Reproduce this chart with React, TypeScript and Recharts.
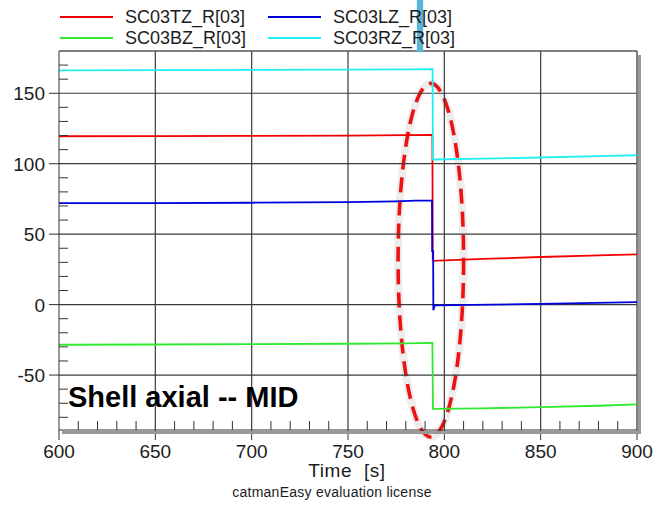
import { Line, LineChart, ReferenceArea, ReferenceLine, XAxis, YAxis } from "recharts";

const FONT = "Tahoma, 'Liberation Sans', Arial, sans-serif";

// SC03TZ_R[03] (red)
const tzTime = [600, 650, 700, 750, 780, 793.8, 794, 820, 850, 880, 900];
const tzValue = [119.5, 119.6, 119.8, 120.0, 120.3, 120.4, 31, 32.4, 33.8, 35, 35.6];

// SC03LZ_R[03] (blue)
const lzTime = [600, 650, 700, 750, 775, 785, 793.6, 793.7, 794.2, 794.3, 795, 850, 900];
const lzValue = [72, 72, 72.3, 72.8, 73.3, 73.8, 73.8, 38, 38, -4, -0.5, 0.5, 1.8];

// SC03BZ_R[03] (green)
const bzTime = [600, 650, 700, 750, 780, 793.8, 794.1, 820, 850, 880, 900];
const bzValue = [-28.5, -28.3, -28, -27.8, -27.5, -27.2, -74, -73.6, -72.8, -71.8, -70.8];

// SC03RZ_R[03] (cyan)
const rzTime = [600, 650, 700, 750, 780, 793.9, 794.1, 820, 850, 880, 900];
const rzValue = [166.2, 166.4, 166.6, 166.8, 167, 167.1, 103, 103.6, 104.4, 105.4, 106];

const xMajor = [650, 700, 750, 800, 850];
const yMajor = [-50, 0, 50, 100, 150];
const xTicks = Array.from({ length: 31 }, (_, i) => 600 + i * 10);
const yTicks = Array.from({ length: 26 }, (_, i) => -80 + i * 10);

const seriesList = [
  { key: "tz", name: "SC03TZ_R[03]", color: "#f00000", time: tzTime, value: tzValue },
  { key: "lz", name: "SC03LZ_R[03]", color: "#0000dc", time: lzTime, value: lzValue },
  { key: "bz", name: "SC03BZ_R[03]", color: "#2eea2e", time: bzTime, value: bzValue },
  { key: "rz", name: "SC03RZ_R[03]", color: "#22f0f0", time: rzTime, value: rzValue },
];

function YTick({ x, y, payload }: any) {
  const v = payload.value;
  if (v % 50 === 0) {
    return (
      <g>
        <line x1={x - 10} x2={x} y1={y} y2={y} stroke="#333" />
        <text x={x - 14} y={y} dy={7} textAnchor="end" fontSize={19} fill="#1c1c1c" fontFamily={FONT}>
          {v}
        </text>
      </g>
    );
  }
  return <line x1={x} x2={x + 9} y1={y} y2={y} stroke="#333" />;
}

function XTick({ x, y, payload }: any) {
  const v = payload.value;
  if (v % 50 === 0) {
    return (
      <g>
        <line x1={x} x2={x} y1={y} y2={y + 10} stroke="#333" />
        <text x={x} y={y + 27.5} textAnchor="middle" fontSize={19} fill="#1c1c1c" fontFamily={FONT}>
          {v}
        </text>
      </g>
    );
  }
  return <line x1={x} x2={x} y1={y - 9} y2={y} stroke="#333" />;
}

function DashedEllipse({ x, y, width, height }: any) {
  const cx = x + width / 2;
  const cy = y + height / 2;
  return (
    <g>
      <ellipse cx={cx} cy={cy} rx={width / 2} ry={height / 2} fill="none" stroke="rgba(0,0,0,0.07)" strokeWidth={8} />
      <ellipse
        cx={cx}
        cy={cy}
        rx={width / 2}
        ry={height / 2}
        fill="none"
        stroke="#ee1111"
        strokeWidth={3.6}
        strokeDasharray="15 8"
      />
    </g>
  );
}

export default function App() {
  return (
    <div
      style={{
        position: "absolute",
        left: 0,
        top: 0,
        width: 654,
        height: 505,
        background: "#fff",
        fontFamily: FONT,
        color: "#1c1c1c",
      }}
    >
      <LineChart width={654} height={505} margin={{ top: 51, right: 17, left: 0, bottom: 0 }}>
        <XAxis
          dataKey="t"
          type="number"
          domain={[600, 900]}
          allowDataOverflow
          ticks={xTicks}
          interval={0}
          tickSize={0}
          tickMargin={0}
          tickLine={false}
          tick={XTick}
          height={75}
          stroke="#333"
        />
        <YAxis
          type="number"
          domain={[-89, 180]}
          allowDataOverflow
          ticks={yTicks}
          interval={0}
          tickSize={0}
          tickMargin={0}
          tickLine={false}
          tick={YTick}
          width={59}
          stroke="#333"
        />
        {yMajor.map((v) => (
          <ReferenceLine key={"y" + v} y={v} stroke="#3a3a3a" strokeWidth={1.2} />
        ))}
        {xMajor.map((v) => (
          <ReferenceLine key={"x" + v} x={v} stroke="#3a3a3a" strokeWidth={1.2} />
        ))}
        <ReferenceLine y={180} stroke="#555" strokeWidth={1.5} />
        <ReferenceLine x={900} stroke="#555" strokeWidth={1.5} />
        {seriesList.map((s) => (
          <Line
            key={s.key}
            data={s.time.map((t, i) => ({ t, v: s.value[i] }))}
            dataKey="v"
            name={s.name}
            stroke={s.color}
            strokeWidth={1.8}
            dot={false}
            type="linear"
            isAnimationActive={false}
          />
        ))}
        <ReferenceArea
          x1={776}
          x2={810}
          y1={-94}
          y2={157}
          ifOverflow="visible"
          shape={DashedEllipse}
        />
      </LineChart>

      {/* axis shadows */}
      <div style={{ position: "absolute", left: 62, top: 431, width: 579, height: 3, background: "#9a9a9a" }} />
      <div style={{ position: "absolute", left: 638, top: 55, width: 3, height: 379, background: "#9a9a9a" }} />

      {/* stray marker bar at top */}
      <div
        style={{
          position: "absolute",
          left: 417,
          top: 0,
          width: 6,
          height: 52,
          background: "#5ab4d8",
          boxShadow: "0 0 2px #8cc8e0",
        }}
      />

      {/* legend */}
      <div
        style={{
          position: "absolute",
          left: 60,
          top: 7,
          display: "grid",
          gridTemplateColumns: "208px 208px",
          gridAutoRows: "20.5px",
        }}
      >
        {seriesList.map((s) => (
          <div key={s.key} style={{ display: "flex", alignItems: "center" }}>
            <span style={{ display: "inline-block", width: 53, height: 2, background: s.color, marginRight: 12 }} />
            <span style={{ fontSize: 18, lineHeight: "20px", whiteSpace: "pre" }}>{s.name}</span>
          </div>
        ))}
      </div>

      <div
        style={{
          position: "absolute",
          left: 68,
          top: 383,
          fontSize: 29,
          lineHeight: "29px",
          fontWeight: "bold",
          fontFamily: "'Liberation Sans', Arial, sans-serif",
          color: "#000",
          whiteSpace: "pre",
        }}
      >
        Shell axial -- MID
      </div>

      <div
        style={{
          position: "absolute",
          left: 247,
          width: 200,
          top: 461,
          textAlign: "center",
          fontSize: 19,
          lineHeight: "20px",
          letterSpacing: 0.6,
          whiteSpace: "pre",
        }}
      >
        Time  [s]
      </div>
      <div
        style={{
          position: "absolute",
          left: 182,
          width: 300,
          top: 484,
          textAlign: "center",
          fontSize: 14,
          lineHeight: "16px",
          letterSpacing: 0.25,
          whiteSpace: "pre",
        }}
      >
        catmanEasy evaluation license
      </div>
    </div>
  );
}
